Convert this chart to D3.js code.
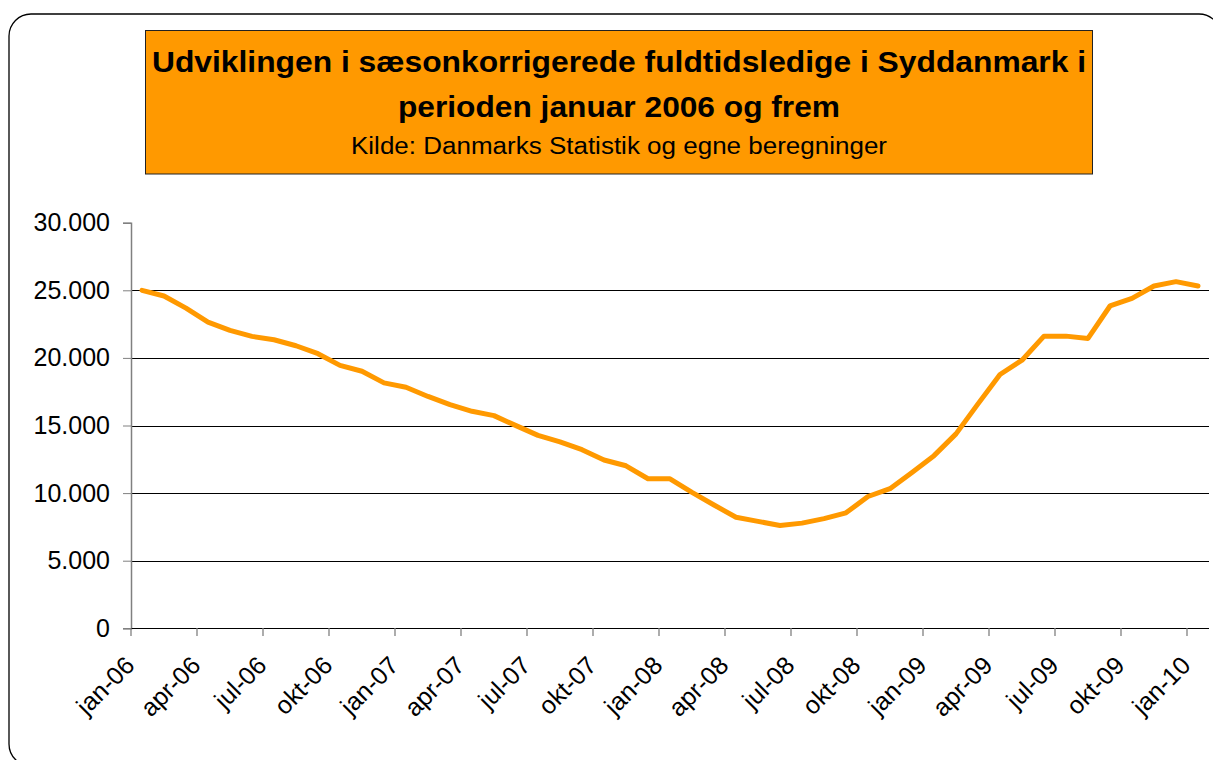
<!DOCTYPE html>
<html>
<head>
<meta charset="utf-8">
<script src="https://cdn.jsdelivr.net/npm/d3@7"></script>
<style>
  body { margin: 0; background: #fff; }
  svg { display: block; font-family: "Liberation Sans", Arial, sans-serif; }
</style>
</head>
<body>
<div id="chart"></div>
<script>
// months jan-06 .. jan-10
const months = [
  "jan-06","feb-06","mar-06","apr-06","maj-06","jun-06","jul-06","aug-06","sep-06","okt-06","nov-06","dec-06",
  "jan-07","feb-07","mar-07","apr-07","maj-07","jun-07","jul-07","aug-07","sep-07","okt-07","nov-07","dec-07",
  "jan-08","feb-08","mar-08","apr-08","maj-08","jun-08","jul-08","aug-08","sep-08","okt-08","nov-08","dec-08",
  "jan-09","feb-09","mar-09","apr-09","maj-09","jun-09","jul-09","aug-09","sep-09","okt-09","nov-09","dec-09",
  "jan-10"
];

// saesonkorrigerede fuldtidsledige, Syddanmark
const ledige = [
  25000, 24580, 23680, 22650, 22030, 21590, 21340, 20900, 20310, 19450, 19010, 18150,
  17830, 17150, 16540, 16050, 15730, 14990, 14270, 13790, 13210, 12450, 12020, 11060,
  11060, 10050, 9120, 8210, 7910, 7600, 7780, 8110, 8540, 9750, 10330, 11530,
  12770, 14380, 16600, 18770, 19830, 21610, 21610, 21440, 23840, 24400, 25320, 25640,
  25320
];

const xTickLabels = ["jan-06","apr-06","jul-06","okt-06","jan-07","apr-07","jul-07","okt-07",
  "jan-08","apr-08","jul-08","okt-08","jan-09","apr-09","jul-09","okt-09","jan-10"];
const yTicks = [0, 5000, 10000, 15000, 20000, 25000, 30000];

const titleLines = [
  "Udviklingen i sæsonkorrigerede fuldtidsledige i Syddanmark i",
  "perioden januar 2006 og frem"
];
const sourceLine = "Kilde: Danmarks Statistik og egne beregninger";

const W = 1213, H = 760;
const plot = { left: 131, right: 1209, top: 222.7, bottom: 628.3 };

const svg = d3.select("#chart").append("svg")
  .attr("width", W)
  .attr("height", H);

// outer chart frame (rounded, runs off the right/bottom edge)
svg.append("rect")
  .attr("x", 9).attr("y", 14)
  .attr("width", 1212).attr("height", 752)
  .attr("rx", 22).attr("ry", 22)
  .attr("fill", "#fff")
  .attr("stroke", "#000")
  .attr("stroke-width", 1.3);

// title box
svg.append("rect")
  .attr("x", 145.5).attr("y", 30.5)
  .attr("width", 947).attr("height", 143.5)
  .attr("fill", "#ff9900")
  .attr("stroke", "#222")
  .attr("stroke-width", 1);

const cx = 619;
svg.append("text")
  .attr("x", cx).attr("y", 72)
  .attr("text-anchor", "middle")
  .attr("font-weight", "bold")
  .attr("font-size", 30)
  .attr("textLength", 934)
  .attr("lengthAdjust", "spacingAndGlyphs")
  .text(titleLines[0]);

svg.append("text")
  .attr("x", cx).attr("y", 117)
  .attr("text-anchor", "middle")
  .attr("font-weight", "bold")
  .attr("font-size", 30)
  .attr("textLength", 442)
  .attr("lengthAdjust", "spacingAndGlyphs")
  .text(titleLines[1]);

svg.append("text")
  .attr("x", cx).attr("y", 154)
  .attr("text-anchor", "middle")
  .attr("font-size", 23)
  .attr("textLength", 536)
  .attr("lengthAdjust", "spacingAndGlyphs")
  .text(sourceLine);

// scales
const x = d3.scaleBand()
  .domain(months)
  .range([plot.left, plot.right])
  .paddingInner(0).paddingOuter(0);

const y = d3.scaleLinear()
  .domain([0, 30000])
  .range([plot.bottom, plot.top]);

const dk = d3.formatLocale({ decimal: ",", thousands: ".", grouping: [3], currency: ["", " kr"] });
const fmt = dk.format(",");

// gridlines
svg.append("g")
  .selectAll("line")
  .data(yTicks.filter(v => v > 0 && v < 30000))
  .enter()
  .append("line")
  .attr("x1", plot.left).attr("x2", plot.right)
  .attr("y1", d => Math.round(y(d)) + 0.5)
  .attr("y2", d => Math.round(y(d)) + 0.5)
  .attr("stroke", "#000")
  .attr("stroke-width", 1);

// y axis
const yAxis = svg.append("g")
  .attr("transform", `translate(${plot.left},0)`)
  .call(d3.axisLeft(y).tickValues(yTicks).tickFormat(fmt).tickSize(8).tickPadding(13));
yAxis.select(".domain").attr("stroke", "#808080").attr("stroke-width", 1.5);
yAxis.selectAll(".tick line").attr("stroke", "#808080");
yAxis.selectAll(".tick text")
  .attr("font-size", 25)
  .attr("font-family", "\"Liberation Sans\", Arial, sans-serif")
  .attr("fill", "#000");

// x axis line
svg.append("line")
  .attr("x1", plot.left).attr("x2", plot.right)
  .attr("y1", Math.round(plot.bottom) + 0.5).attr("y2", Math.round(plot.bottom) + 0.5)
  .attr("stroke", "#000")
  .attr("stroke-width", 1.2);

// x ticks at category boundaries, every third month
const xt = svg.append("g")
  .selectAll("g")
  .data(xTickLabels)
  .enter()
  .append("g")
  .attr("transform", d => `translate(${x(d)},${Math.round(plot.bottom)})`);

xt.append("line")
  .attr("y1", 0).attr("y2", 8)
  .attr("stroke", "#808080")
  .attr("stroke-width", 1.3);

xt.append("text")
  .attr("text-anchor", "end")
  .attr("font-size", 25)
  .attr("transform", "translate(5,39) rotate(-45)")
  .text(d => d);

// the series
const line = d3.line()
  .x((d, i) => x(months[i]) + x.bandwidth() / 2)
  .y(d => y(d));

svg.append("path")
  .datum(ledige)
  .attr("fill", "none")
  .attr("stroke", "#ff9900")
  .attr("stroke-width", 5)
  .attr("stroke-linejoin", "round")
  .attr("stroke-linecap", "round")
  .attr("d", line);
</script>
</body>
</html>
